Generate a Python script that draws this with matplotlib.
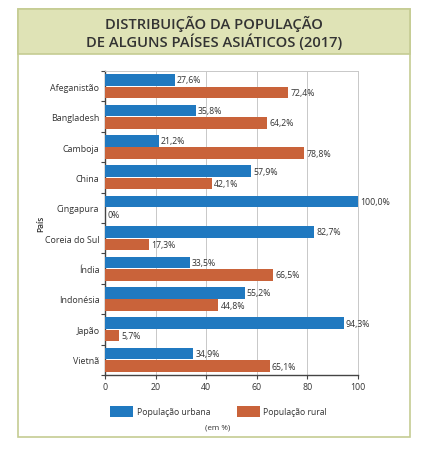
import numpy as np
import matplotlib
matplotlib.use("Agg")
import matplotlib.pyplot as plt
from matplotlib.patches import Rectangle

plt.rcParams['font.family'] = ['Open Sans', 'DejaVu Sans']

paises = ["Afeganistão", "Bangladesh", "Camboja", "China", "Cingapura",
          "Coreia do Sul", "Índia", "Indonésia", "Japão", "Vietnã"]
urbana = [27.6, 35.8, 21.2, 57.9, 100.0, 82.7, 33.5, 55.2, 94.3, 34.9]
rural = [72.4, 64.2, 78.8, 42.1, 0.0, 17.3, 66.5, 44.8, 5.7, 65.1]
ticks_x = [0, 20, 40, 60, 80, 100]

cor_urb = "#2079c0"
cor_rur = "#c9633a"


def fmt(v):
    if v == 0:
        return "0%"
    return ("%.1f%%" % v).replace(".", ",")


fig = plt.figure(figsize=(4.24, 4.56), dpi=100)

# moldura externa e faixa do titulo
fig.patches.append(Rectangle((18 / 424, 1 - 438 / 456), 392 / 424, 428 / 456,
                             transform=fig.transFigure, facecolor="white",
                             edgecolor="#c5cc92", linewidth=1.2, zorder=-10))
fig.patches.append(Rectangle((18 / 424, 1 - 55 / 456), 392 / 424, 45 / 456,
                             transform=fig.transFigure, facecolor="#dfe3b6",
                             edgecolor="#c5cc92", linewidth=1.2, zorder=-9))
fig.text(214 / 424, 1 - 33 / 456,
         "DISTRIBUIÇÃO DA POPULAÇÃO\nDE ALGUNS PAÍSES ASIÁTICOS (2017)",
         ha="center", va="center", fontsize=10.6, fontweight="semibold",
         color="#333333", linespacing=1.15)

ax = fig.add_axes([105 / 424, 1 - 376 / 456, 253 / 424, 304 / 456])
ax.set_zorder(5)
y = np.arange(len(paises))
h = 0.38
ax.barh(y - h / 2 - 0.015, urbana, height=h, color=cor_urb, zorder=3)
ax.barh(y + h / 2 + 0.015, rural, height=h, color=cor_rur, zorder=3)

for i in range(len(paises)):
    ax.text(urbana[i] + 0.9, y[i] - h / 2 - 0.015, fmt(urbana[i]),
            va="center", ha="left", fontsize=6.3, color="#333333", zorder=4)
    ax.text(rural[i] + 0.9, y[i] + h / 2 + 0.015, fmt(rural[i]),
            va="center", ha="left", fontsize=6.3, color="#333333", zorder=4)

ax.set_xlim(0, 100)
ax.set_ylim(len(paises) - 0.5, -0.5)
ax.set_xticks(ticks_x)
ax.set_xticklabels([str(t) for t in ticks_x], fontsize=6.3, color="#333333")
ax.set_yticks(y)
ax.set_yticklabels(paises, fontsize=6.4, color="#333333")
ax.tick_params(axis="y", length=0, pad=4)
ax.set_yticks(np.arange(-0.5, len(paises), 1), minor=True)
ax.tick_params(axis="y", which="minor", length=3, width=0.8, color="#444444")
ax.tick_params(axis="x", length=3, width=0.8, color="#444444", pad=2)
ax.grid(axis="x", color="#c8c8c8", linewidth=0.7, zorder=0)
ax.set_ylabel("País", fontsize=6, color="#333333", labelpad=0,
              fontweight="semibold")

for s in ["top", "right"]:
    ax.spines[s].set_color("#c8c8c8")
    ax.spines[s].set_linewidth(0.7)
for s in ["left", "bottom"]:
    ax.spines[s].set_color("#444444")
    ax.spines[s].set_linewidth(1.0)

# legenda
fig.patches.append(Rectangle((110 / 424, 1 - 418 / 456), 23 / 424, 11 / 456,
                             transform=fig.transFigure, facecolor=cor_urb,
                             edgecolor="none"))
fig.text(137 / 424, 1 - 412.5 / 456, "População urbana", fontsize=6.2,
         va="center", ha="left", color="#333333")
fig.patches.append(Rectangle((237 / 424, 1 - 418 / 456), 23 / 424, 11 / 456,
                             transform=fig.transFigure, facecolor=cor_rur,
                             edgecolor="none"))
fig.text(263 / 424, 1 - 412.5 / 456, "População rural", fontsize=6.2,
         va="center", ha="left", color="#333333")
fig.text(218 / 424, 1 - 428 / 456, "(em %)", fontsize=5.8,
         va="center", ha="center", color="#333333")

fig.savefig("out.png", dpi=100)
